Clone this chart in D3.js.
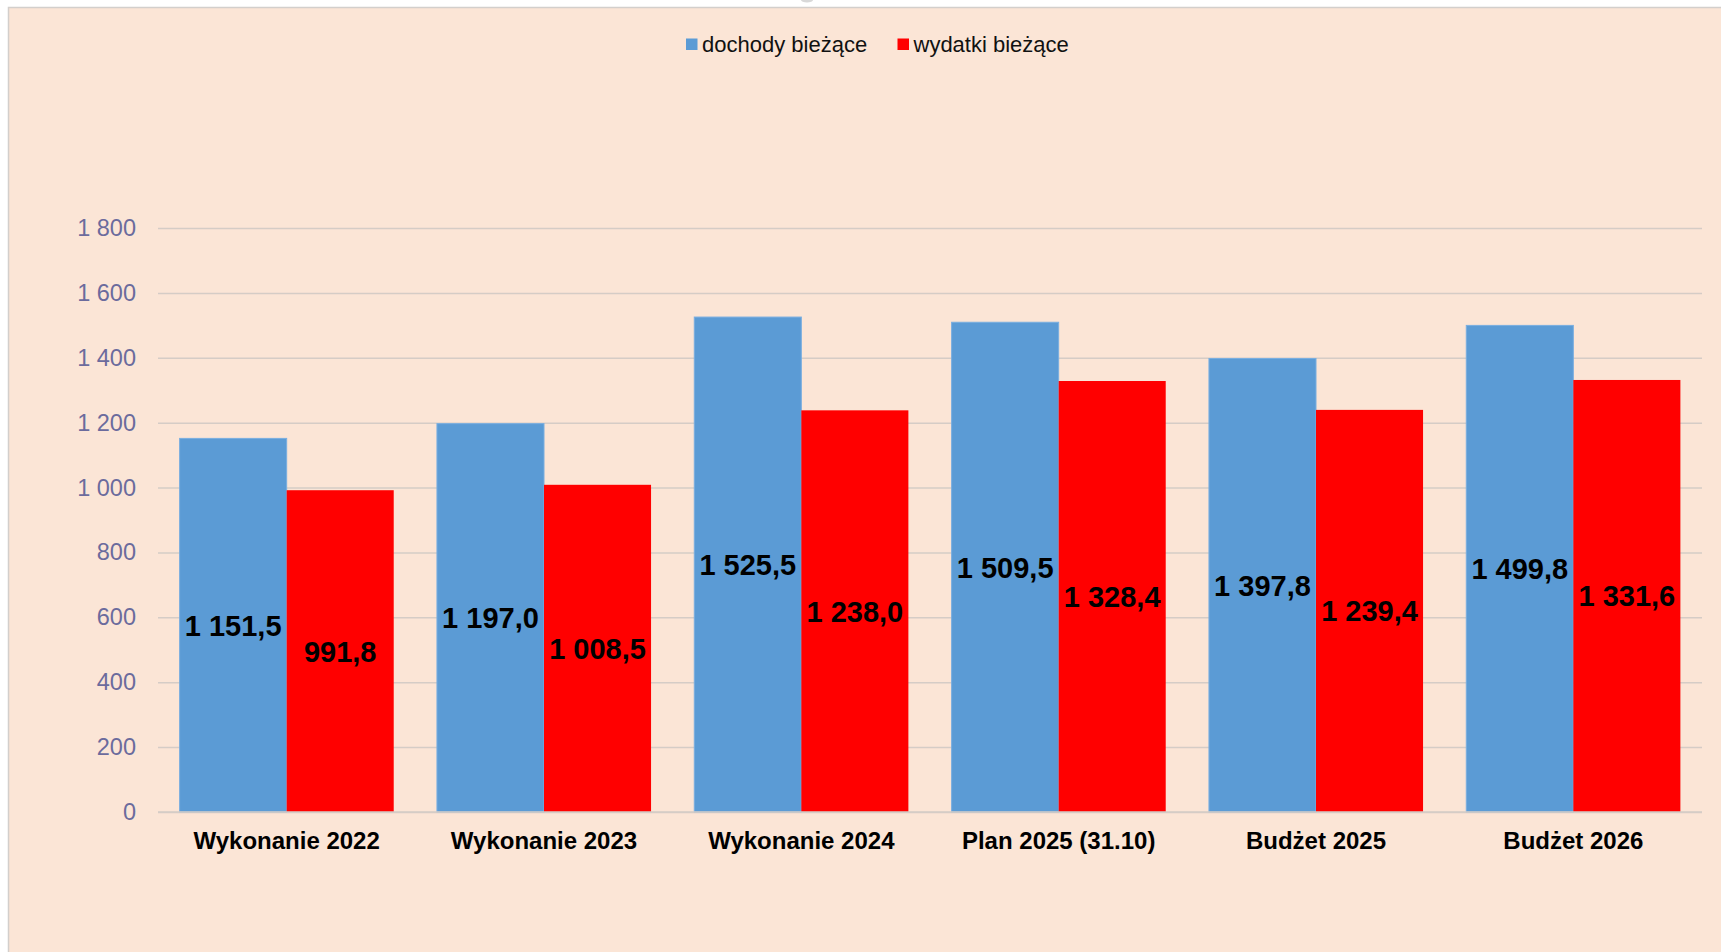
<!DOCTYPE html>
<html lang="pl">
<head>
<meta charset="utf-8">
<script src="https://cdn.jsdelivr.net/npm/d3@7"></script>
<style>
  html, body { margin: 0; padding: 0; background: #fff; }
  svg { display: block; font-family: "Liberation Sans", Arial, sans-serif; }
</style>
</head>
<body>
<div id="chart"></div>
<script>
// categories and series
var CATEGORIES = ['Wykonanie 2022', 'Wykonanie 2023', 'Wykonanie 2024', 'Plan 2025 (31.10)', 'Budżet 2025', 'Budżet 2026'];
var SERIES = ['dochody bieżące', 'wydatki bieżące'];
var DOCHODY = [1151.5, 1197.0, 1525.5, 1509.5, 1397.8, 1499.8];
var WYDATKI = [991.8, 1008.5, 1238.0, 1328.4, 1239.4, 1331.6];
var Y_TICKS = [0, 200, 400, 600, 800, 1000, 1200, 1400, 1600, 1800];

var COLORS = { 'dochody bieżące': '#5B9BD5', 'wydatki bieżące': '#FF0000' };

var W = 1721, H = 952;
var plot = { left: 158, right: 1702, top: 228, bottom: 812 };

var pl = d3.formatLocale({ decimal: ',', thousands: ' ', grouping: [3], currency: ['', ''] });
var fmtTick = pl.format(',d');
var fmtVal = pl.format(',.1f');

var svg = d3.select('#chart').append('svg').attr('width', W).attr('height', H);

// chart area background + border
svg.append('rect').attr('x', 8.5).attr('y', 7.5).attr('width', W).attr('height', H)
    .attr('fill', '#FBE5D6').attr('stroke', '#D3CFCC').attr('stroke-width', 1.5);
svg.append('ellipse').attr('cx', 807).attr('cy', 0).attr('rx', 6).attr('ry', 2.5).attr('fill', '#d8d8d8');

var y = d3.scaleLinear().domain([0, 1800]).range([plot.bottom, plot.top]);
var x0 = d3.scaleBand().domain(CATEGORIES).range([plot.left, plot.right])
    .paddingInner(0.168).paddingOuter(0.084);
var x1 = d3.scaleBand().domain(SERIES).range([0, x0.bandwidth()]).padding(0);

// gridlines + y labels
var yAxis = d3.axisLeft(y).tickValues(Y_TICKS).tickFormat(fmtTick)
    .tickSize(-(plot.right - plot.left)).tickPadding(22);
var gy = svg.append('g').attr('transform', 'translate(' + plot.left + ',0)').call(yAxis);
gy.select('.domain').remove();
gy.selectAll('.tick line').attr('stroke', '#D5CCC6').attr('stroke-width', 1.5);
gy.selectAll('.tick text').attr('fill', '#6B6B9D').attr('font-size', '23.5px')
    .attr('font-family', '"Liberation Sans", Arial, sans-serif');

// bars
var rows = CATEGORIES.map(function(c, i) {
    return { cat: c, vals: [
        { key: SERIES[0], value: DOCHODY[i] },
        { key: SERIES[1], value: WYDATKI[i] }
    ] };
});

var groups = svg.append('g').selectAll('g').data(rows).enter().append('g')
    .attr('transform', function(d) { return 'translate(' + x0(d.cat) + ',0)'; });

groups.selectAll('rect').data(function(d) { return d.vals; }).enter().append('rect')
    .attr('x', function(d) { return x1(d.key); })
    .attr('y', function(d) { return y(d.value); })
    .attr('width', x1.bandwidth())
    .attr('height', function(d) { return y(0) - y(d.value); })
    .attr('fill', function(d) { return COLORS[d.key]; })
    .attr('stroke', function(d) { return d.key === SERIES[0] ? '#79AEE0' : 'none'; })
    .attr('stroke-width', 1);

// data labels, centred in the bar
groups.selectAll('text').data(function(d) { return d.vals; }).enter().append('text')
    .attr('x', function(d) { return x1(d.key) + x1.bandwidth() / 2; })
    .attr('y', function(d) { return (y(d.value) + y(0)) / 2 + 10.5; })
    .attr('text-anchor', 'middle')
    .attr('font-size', '29px')
    .attr('font-weight', 'bold')
    .attr('fill', '#000')
    .text(function(d) { return fmtVal(d.value); });

// x axis line + category labels
svg.append('line').attr('x1', plot.left).attr('x2', plot.right)
    .attr('y1', y(0)).attr('y2', y(0))
    .attr('stroke', '#D5CCC6').attr('stroke-width', 1.5);
svg.append('g').selectAll('text').data(CATEGORIES).enter().append('text')
    .attr('x', function(d) { return x0(d) + x0.bandwidth() / 2; })
    .attr('y', 849)
    .attr('text-anchor', 'middle')
    .attr('font-size', '24px')
    .attr('font-weight', 'bold')
    .attr('fill', '#000')
    .text(function(d) { return d; });

// legend
var legend = svg.append('g');
var legendItems = [ { key: SERIES[0], x: 686 }, { key: SERIES[1], x: 897.5 } ];
legendItems.forEach(function(it) {
    legend.append('rect').attr('x', it.x).attr('y', 38.5).attr('width', 11.5).attr('height', 11.5)
        .attr('fill', COLORS[it.key]);
    legend.append('text').attr('x', it.x + 16).attr('y', 52)
        .attr('font-size', '22px').attr('fill', '#111')
        .text(it.key);
});
</script>
</body>
</html>
